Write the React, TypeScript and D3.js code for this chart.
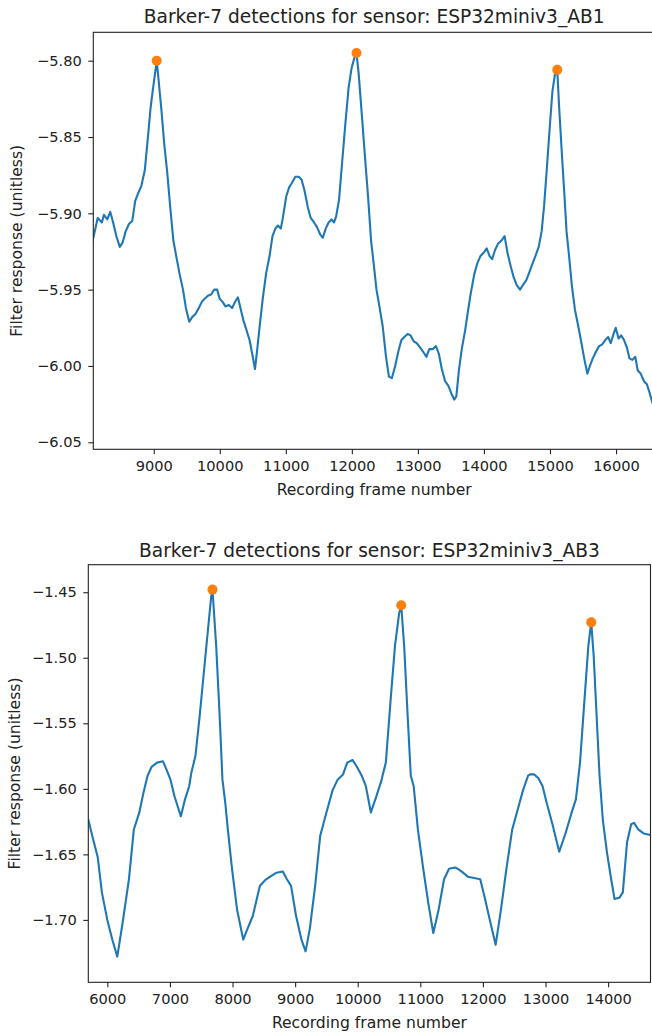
import React, { useEffect, useRef } from 'react';
import * as d3 from 'd3';

// sensor AB1 (top panel)
const ab1Frames = [
  8070, 8152, 8215, 8246, 8297, 8341, 8385, 8435, 8486, 8530, 8574, 8624, 8675, 8719, 8763, 8813,
  8864, 8908, 8952, 8990, 9015, 9045, 9072, 9116, 9160, 9204, 9254, 9298, 9349, 9393, 9443, 9487,
  9538, 9582, 9632, 9683, 9727, 9771, 9821, 9872, 9916, 9960, 9998, 10042, 10086, 10136, 10187,
  10231, 10275, 10313, 10357, 10401, 10451, 10495, 10533, 10565, 10609, 10653, 10703, 10754, 10798,
  10842, 10880, 10924, 10955, 11006, 11050, 11094, 11144, 11195, 11239, 11283, 11333, 11377, 11428,
  11472, 11522, 11560, 11604, 11648, 11692, 11730, 11762, 11806, 11850, 11900, 11950, 11995, 12039,
  12070, 12102, 12152, 12202, 12247, 12291, 12328, 12373, 12417, 12467, 12517, 12561, 12605, 12656,
  12706, 12750, 12794, 12845, 12889, 12939, 12983, 13034, 13084, 13128, 13172, 13223, 13273, 13317,
  13362, 13412, 13462, 13506, 13550, 13582, 13620, 13664, 13714, 13758, 13802, 13853, 13897, 13947,
  13991, 14042, 14086, 14124, 14168, 14212, 14262, 14313, 14357, 14407, 14451, 14496, 14546, 14590,
  14640, 14684, 14735, 14779, 14829, 14873, 14911, 14955, 14999, 15037, 15075, 15110, 15138, 15176,
  15214, 15251, 15289, 15333, 15377, 15428, 15472, 15522, 15566, 15604, 15648, 15692, 15743, 15787,
  15837, 15881, 15919, 15963, 15995, 16039, 16077, 16121, 16165, 16203, 16247, 16291, 16329, 16373,
  16423, 16467, 16511, 16549, 16600,
];
const ab1Values = [
  -5.919, -5.903, -5.906, -5.901, -5.904, -5.899, -5.906, -5.915, -5.922, -5.919, -5.912, -5.907,
  -5.905, -5.892, -5.887, -5.882, -5.872, -5.852, -5.831, -5.818, -5.81, -5.8, -5.812, -5.832,
  -5.855, -5.873, -5.898, -5.918, -5.93, -5.94, -5.95, -5.962, -5.971, -5.968, -5.966, -5.962,
  -5.958, -5.956, -5.954, -5.953, -5.95, -5.95, -5.956, -5.958, -5.961, -5.96, -5.962, -5.958,
  -5.955, -5.962, -5.97, -5.976, -5.983, -5.993, -6.002, -5.99, -5.972, -5.955, -5.939, -5.928,
  -5.915, -5.91, -5.908, -5.91, -5.903, -5.889, -5.883, -5.88, -5.876, -5.876, -5.878, -5.885,
  -5.896, -5.903, -5.906, -5.909, -5.914, -5.916, -5.91, -5.906, -5.904, -5.906, -5.902, -5.891,
  -5.868, -5.842, -5.818, -5.805, -5.798, -5.795, -5.808, -5.836, -5.865, -5.89, -5.918, -5.932,
  -5.95, -5.961, -5.974, -5.994, -6.007, -6.008, -6.0, -5.99, -5.983, -5.981, -5.979, -5.98,
  -5.984, -5.985, -5.988, -5.991, -5.994, -5.989, -5.989, -5.987, -5.992, -6.002, -6.01, -6.013,
  -6.018, -6.022, -6.02, -6.003, -5.989, -5.977, -5.964, -5.952, -5.94, -5.933, -5.928, -5.926,
  -5.923, -5.928, -5.93, -5.924, -5.92, -5.918, -5.915, -5.926, -5.935, -5.942, -5.947, -5.95,
  -5.947, -5.944, -5.939, -5.933, -5.928, -5.922, -5.912, -5.895, -5.869, -5.842, -5.82, -5.809,
  -5.806, -5.83, -5.858, -5.885, -5.912, -5.928, -5.948, -5.963, -5.974, -5.984, -5.996, -6.005,
  -6.0, -5.995, -5.991, -5.987, -5.986, -5.983, -5.981, -5.985, -5.979, -5.975, -5.982, -5.98,
  -5.983, -5.988, -5.995, -5.996, -5.994, -6.003, -6.005, -6.01, -6.012, -6.018, -6.024, -6.028,
];
const ab1PeakFrames = [9045, 12070, 15110];
const ab1PeakValues = [-5.8, -5.795, -5.806];
const ab1XTicks = [9000, 10000, 11000, 12000, 13000, 14000, 15000, 16000];
const ab1YTicks = [-5.8, -5.85, -5.9, -5.95, -6.0, -6.05];

// sensor AB3 (bottom panel)
const ab3Frames = [
  5694, 5760, 5846, 5913, 6000, 6079, 6159, 6245, 6345, 6424, 6511, 6577, 6643, 6710, 6796, 6889,
  6942, 7009, 7075, 7141, 7175, 7241, 7308, 7341, 7407, 7474, 7540, 7607, 7660, 7680, 7739, 7792,
  7839, 7885, 7925, 7992, 8072, 8171, 8237, 8324, 8437, 8536, 8603, 8702, 8802, 8869, 8935, 9015,
  9101, 9167, 9234, 9320, 9400, 9500, 9599, 9679, 9765, 9832, 9918, 9984, 10064, 10130, 10210,
  10296, 10383, 10396, 10449, 10529, 10595, 10662, 10695, 10742, 10795, 10848, 10894, 10961, 11047,
  11127, 11207, 11293, 11379, 11459, 11559, 11658, 11758, 11857, 11957, 12024, 12110, 12203, 12289,
  12375, 12468, 12555, 12641, 12721, 12754, 12820, 12887, 12953, 13020, 13106, 13219, 13319, 13418,
  13485, 13551, 13618, 13684, 13730, 13770, 13817, 13863, 13916, 13983, 14049, 14102, 14182, 14235,
  14302, 14368, 14415, 14481, 14567, 14660, 14700,
];
const ab3Values = [
  -1.623, -1.636, -1.652, -1.679, -1.7, -1.715, -1.728, -1.702, -1.669, -1.631, -1.618, -1.603,
  -1.59, -1.583, -1.58, -1.579, -1.585, -1.593, -1.606, -1.616, -1.621, -1.608, -1.598, -1.588,
  -1.575, -1.545, -1.512, -1.479, -1.453, -1.448, -1.491, -1.542, -1.593, -1.611, -1.631, -1.661,
  -1.692, -1.715, -1.707, -1.697, -1.674, -1.669, -1.667, -1.664, -1.663, -1.669, -1.674, -1.697,
  -1.715, -1.724, -1.707, -1.674, -1.636, -1.618, -1.601, -1.593, -1.589, -1.58, -1.578, -1.583,
  -1.59, -1.598, -1.618, -1.606, -1.593, -1.59, -1.58, -1.53, -1.491, -1.466, -1.46, -1.491,
  -1.542, -1.59, -1.598, -1.631, -1.661, -1.687, -1.71, -1.692, -1.669, -1.661, -1.66, -1.663,
  -1.667, -1.668, -1.669, -1.682, -1.7, -1.719, -1.692, -1.661, -1.631, -1.616, -1.601, -1.59,
  -1.589, -1.589, -1.592, -1.598, -1.611, -1.626, -1.648, -1.634, -1.618, -1.608, -1.58, -1.535,
  -1.491, -1.473, -1.499, -1.545, -1.59, -1.624, -1.649, -1.669, -1.684, -1.683, -1.679, -1.641,
  -1.627, -1.626, -1.631, -1.634, -1.635, -1.635,
];
const ab3PeakFrames = [7680, 10695, 13730];
const ab3PeakValues = [-1.448, -1.46, -1.473];
const ab3XTicks = [6000, 7000, 8000, 9000, 10000, 11000, 12000, 13000, 14000];
const ab3YTicks = [-1.45, -1.5, -1.55, -1.6, -1.65, -1.7];

const FONT = '"DejaVu Sans", sans-serif';

const panels = [
  {
    id: 'ab1',
    title: 'Barker-7 detections for sensor: ESP32miniv3_AB1',
    frames: ab1Frames, values: ab1Values,
    peakFrames: ab1PeakFrames, peakValues: ab1PeakValues,
    xTicks: ab1XTicks, yTicks: ab1YTicks,
    xDomain: [8085, 16590], yDomain: [-6.0546, -5.7814],
    box: { left: 93.3, right: 655, top: 32.3, bottom: 449.3 },
    titleY: 23, xLabelY: 495, yLabelX: 22,
  },
  {
    id: 'ab3',
    title: 'Barker-7 detections for sensor: ESP32miniv3_AB3',
    frames: ab3Frames, values: ab3Values,
    peakFrames: ab3PeakFrames, peakValues: ab3PeakValues,
    xTicks: ab3XTicks, yTicks: ab3YTicks,
    xDomain: [5696, 14677], yDomain: [-1.7476, -1.429],
    box: { left: 88.3, right: 650.5, top: 564.7, bottom: 982.3 },
    titleY: 557, xLabelY: 1027.5, yLabelX: 20,
  },
];

export default function App() {
  const ref = useRef<SVGSVGElement>(null);

  useEffect(() => {
    const svg = d3.select(ref.current);
    svg.selectAll('*').remove();

    panels.forEach((p) => {
      const { box } = p;
      const x = d3.scaleLinear().domain(p.xDomain).range([box.left, box.right]);
      const y = d3.scaleLinear().domain(p.yDomain).range([box.bottom, box.top]);
      const g = svg.append('g');

      g.append('clipPath').attr('id', 'clip-' + p.id)
        .append('rect')
        .attr('x', box.left).attr('y', box.top)
        .attr('width', box.right - box.left).attr('height', box.bottom - box.top);

      const pts = p.frames.map((f, i) => [f, p.values[i]] as [number, number]);
      const line = d3.line<[number, number]>().x((d) => x(d[0])).y((d) => y(d[1]));

      g.append('path')
        .datum(pts)
        .attr('clip-path', `url(#clip-${p.id})`)
        .attr('fill', 'none')
        .attr('stroke', '#1f77b4')
        .attr('stroke-width', 2.1)
        .attr('stroke-linejoin', 'round')
        .attr('d', line);

      g.append('g')
        .selectAll('circle')
        .data(p.peakFrames)
        .enter().append('circle')
        .attr('cx', (d) => x(d))
        .attr('cy', (d, i) => y(p.peakValues[i]))
        .attr('r', 5)
        .attr('fill', '#ff7f0e');

      // frame
      g.append('rect')
        .attr('x', box.left).attr('y', box.top)
        .attr('width', box.right - box.left).attr('height', box.bottom - box.top)
        .attr('fill', 'none').attr('stroke', '#222').attr('stroke-width', 1.1);

      const xAxis = g.append('g')
        .attr('transform', `translate(0,${box.bottom})`)
        .call(d3.axisBottom(x).tickValues(p.xTicks).tickFormat(d3.format('d')).tickSize(5).tickPadding(6.5));
      const yAxis = g.append('g')
        .attr('transform', `translate(${box.left},0)`)
        .call(d3.axisLeft(y).tickValues(p.yTicks).tickFormat(d3.format('.2f')).tickSize(5).tickPadding(6.5));

      [xAxis, yAxis].forEach((a) => {
        a.select('.domain').remove();
        a.selectAll('line').attr('stroke', '#222').attr('stroke-width', 1.1);
        a.selectAll('text').attr('fill', '#222').style('font-family', FONT).style('font-size', '14.6px');
      });

      g.append('text')
        .text(p.title)
        .attr('x', (box.left + box.right) / 2).attr('y', p.titleY)
        .attr('text-anchor', 'middle')
        .style('font-family', FONT).style('font-size', '18.6px').attr('fill', '#222');

      g.append('text')
        .text('Recording frame number')
        .attr('x', (box.left + box.right) / 2).attr('y', p.xLabelY)
        .attr('text-anchor', 'middle')
        .style('font-family', FONT).style('font-size', '15.6px').attr('fill', '#222');

      g.append('text')
        .text('Filter response (unitless)')
        .attr('transform', `translate(${p.yLabelX},${(box.top + box.bottom) / 2}) rotate(-90)`)
        .attr('text-anchor', 'middle')
        .style('font-family', FONT).style('font-size', '15.6px').attr('fill', '#222');
    });
  }, []);

  return (
    <div style={{ position: 'absolute', left: 0, top: 0 }}>
      <svg ref={ref} width={652} height={1034} style={{ display: 'block', background: '#fff' }} />
    </div>
  );
}
